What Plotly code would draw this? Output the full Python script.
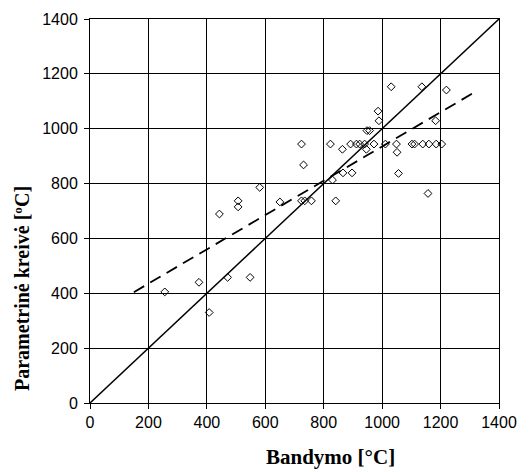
import plotly.graph_objects as go

# measured (x) vs parametric curve (y), degrees C
meas_x = [256, 373, 408, 443, 471, 507, 507, 548, 581, 650,
          724, 731, 724, 735, 758, 823, 830, 841, 864, 866,
          892, 897, 912, 923, 940, 946, 948, 957, 972, 986,
          989, 1011, 1049, 1051, 1056, 1102, 1111, 1139, 1160, 1185,
          1204, 1157, 1183, 1031, 1136, 1220]
param_y = [405, 440, 330, 689, 458, 737, 715, 458, 786, 733,
           944, 868, 737, 737, 737, 944, 813, 737, 925, 839,
           944, 839, 944, 944, 944, 925, 993, 993, 944, 1064,
           1029, 944, 944, 914, 837, 944, 944, 944, 944, 944,
           944, 764, 1029, 1153, 1153, 1141]

# identity line and linear trend line endpoints
ident_x = [0, 1400]
ident_y = [0, 1400]
trend_x = [150, 1310]
trend_y = [404, 1129]

tick_vals = [0, 200, 400, 600, 800, 1000, 1200, 1400]

fig = go.Figure()
fig.add_trace(go.Scatter(x=ident_x, y=ident_y, mode="lines",
                         line=dict(color="black", width=1.5), showlegend=False))
fig.add_trace(go.Scatter(x=trend_x, y=trend_y, mode="lines",
                         line=dict(color="black", width=1.8, dash="12px,7px"), showlegend=False))
fig.add_trace(go.Scatter(x=meas_x, y=param_y, mode="markers",
                         marker=dict(symbol="diamond-open", size=6, color="black",
                                     line=dict(color="black", width=1)),
                         showlegend=False))

axis_common = dict(
    range=[0, 1400], tickvals=tick_vals, showgrid=True, gridcolor="black", gridwidth=1,
    showline=True, linecolor="black", linewidth=1, mirror=True,
    ticks="outside", ticklen=5, tickcolor="black", zeroline=False,
    tickfont=dict(family="Liberation Sans, Arial", size=16, color="black"),
)
fig.update_xaxes(**axis_common)
fig.update_yaxes(**axis_common, ticklabelstandoff=3)

fig.update_layout(
    width=529, height=472,
    margin=dict(l=90, r=30, t=19, b=69),
    paper_bgcolor="white", plot_bgcolor="white",
    annotations=[
        dict(text="<b>Bandymo [°C]</b>", xref="paper", yref="paper",
             x=(330 - 90) / 409, y=-(457 - 403) / 384, xanchor="center", yanchor="middle",
             showarrow=False, font=dict(family="Liberation Serif, Times New Roman", size=21, color="black")),
        dict(text="<b>Parametrinė kreivė [ºC]</b>", xref="paper", yref="paper",
             x=-(90 - 22) / 409, y=(403 - 289) / 384, xanchor="center", yanchor="middle",
             textangle=-90, showarrow=False,
             font=dict(family="Liberation Serif, Times New Roman", size=20, color="black")),
    ],
)

fig.write_html("out.html")
